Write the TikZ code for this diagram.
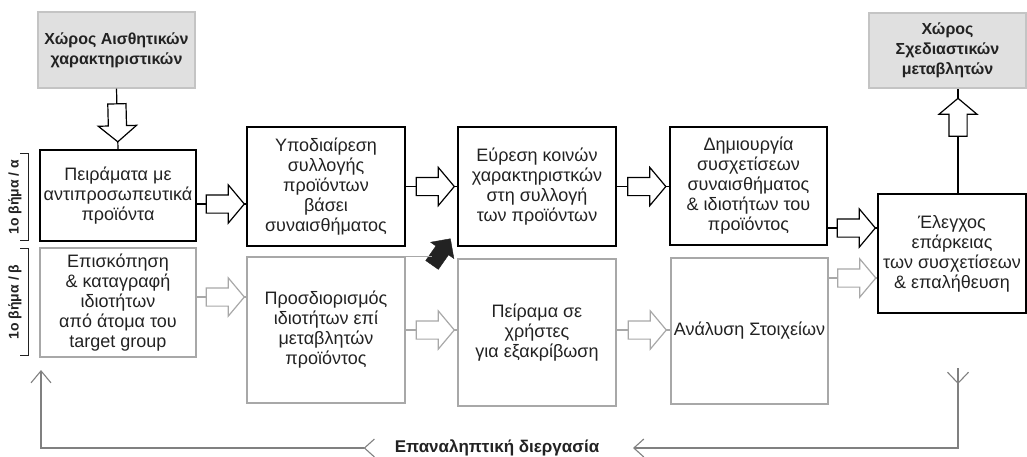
\documentclass[tikz,border=0pt]{standalone}
\usepackage{fontspec}
\setmainfont{Liberation Sans}
\usetikzlibrary{arrows.meta,shapes.arrows,decorations.markings}
\definecolor{boxgray}{HTML}{A8A8A8}
\definecolor{spacefill}{HTML}{E0E0E0}
\definecolor{spaceline}{HTML}{C4C4C4}
\definecolor{loopgray}{HTML}{808080}
\definecolor{txt}{HTML}{222222}

\begin{document}
\begin{tikzpicture}[x=1pt,y=-1pt,font=\fontsize{18}{20}\selectfont,
  box/.style={draw=black,line width=1.4pt,align=center,text=txt,inner sep=2pt},
  softbox/.style={box,draw=boxgray},
  space/.style={box,draw=spaceline,fill=spacefill,font=\bfseries\fontsize{16}{20}\selectfont},
  fat/.style={single arrow,draw,fill=white,line width=1.2pt,minimum height=38pt,
    inner xsep=0pt,inner ysep=8.5pt,single arrow head extend=10pt,single arrow tip angle=100,sloped,allow upside down},
  link/.style={line width=1.2pt},
  softlink/.style={link,draw=boxgray},
  steplabel/.style={rotate=90,text=txt,font=\bfseries\fontsize{14}{16}\selectfont},
  loopline/.style={draw=loopgray,line width=1.1pt}]
\useasboundingbox (0,0) rectangle (1027,456);

\node[space,minimum width=157,minimum height=76] (sens) at (116.5,50) {Χώρος Αισθητικών\\χαρακτηριστικών};
\node[space,minimum width=157,minimum height=75] (dv) at (947.5,50.5) {Χώρος\\Σχεδιαστικών\\μεταβλητών};

\node[box,minimum width=156,minimum height=91] (a1) at (118,195.5) {Πειράματα με\\αντιπροσωπευτικά\\προϊόντα};
\node[box,minimum width=158,minimum height=119] (a2) at (326,186.5) {Υποδιαίρεση\\συλλογής\\προϊόντων\\βάσει\\συναισθήματος};
\node[box,minimum width=158,minimum height=119] (a3) at (537,186.5) {Εύρεση κοινών\\χαρακτηριστκών\\στη συλλογή\\των προϊόντων};
\node[box,minimum width=157,minimum height=118] (a4) at (748.5,186) {Δημιουργία\\συσχετίσεων\\συναισθήματος\\\& ιδιοτήτων του\\προϊόντος};
\node[box,minimum width=148,minimum height=119] (r) at (952,253.5) {Έλεγχος\\επάρκειας\\των συσχετίσεων\\\& επαλήθευση};

\node[softbox,minimum width=156,minimum height=109] (b1) at (118,302.5) {Επισκόπηση\\\& καταγραφή\\ιδιοτήτων\\από άτομα του\\target group};
\node[softbox,minimum width=158,minimum height=146] (b2) at (326,330) {Προσδιορισμός\\ιδιοτήτων επί\\μεταβλητών\\προϊόντος};
\node[softbox,minimum width=158,minimum height=147] (b3) at (537,332.5) {Πείραμα σε\\χρήστες\\για εξακρίβωση};
\node[softbox,minimum width=157,minimum height=146] (b4) at (749.5,331) {Ανάλυση Στοιχείων};

\node[steplabel] (stepa) at (15,197) {1ο βήμα / α};
\node[steplabel] (stepb) at (15,302) {1ο βήμα / β};
\draw[txt,line width=1pt] (20,153) -- (28,153) -- (28,240) -- (20,240);
\draw[txt,line width=1pt] (20,248) -- (28,248) -- (28,355) -- (20,355);

\draw[link] (sens.south) -- (a1.north) node[midway,fat] {};
\draw[link] ([yshift=-8.5]a1.east) -- ([yshift=-8.5]a1.east -| a2.west) node[midway,fat] {};
\draw[link] (a2.east) -- (a2.east -| a3.west) node[midway,fat] {};
\draw[link] (a3.east) -- (a3.east -| a4.west) node[midway,fat] {};
\draw[link] ([yshift=-42]a4.east) -- ([yshift=-42]a4.east -| r.west) node[midway,fat] {};
\draw[link] ([xshift=6]r.north) -- ([xshift=6]r.north |- dv.south) node[pos=0.69,fat] {};

\draw[softlink] ([yshift=5.5]b1.east) -- ([yshift=5.5]b1.east -| b2.west) node[midway,fat,draw=boxgray] {};
\draw[softlink] (b2.east) -- (b2.east -| b3.west) node[midway,fat,draw=boxgray] {};
\draw[softlink] ([yshift=2.5]b3.east) -- ([yshift=2.5]b3.east -| b4.west) node[midway,fat,draw=boxgray] {};
\draw[softlink] ([yshift=53]b4.east) -- ([yshift=53]b4.east -| r.west) node[midway,fat,draw=boxgray] {};

\node[single arrow,fill=txt,draw=txt,minimum height=32pt,inner xsep=0pt,inner ysep=7.5pt,
  single arrow head extend=6.5pt,single arrow tip angle=90,rotate=55] (blk) at (439,255) {};
\draw[softlink] (b2.north east) -- (b2.north east -| blk.tail);

\node[text=txt,font=\bfseries\fontsize{17}{20}\selectfont] (iter) at (497,448) {Επαναληπτική διεργασία};
\coordinate (fbtop) at (958,368);
\coordinate (fbr) at (633,448);
\coordinate (fbl) at (375,448);
\coordinate (fbend) at (41,370);
\draw[loopline,-{Straight Barb[length=10pt,width=18pt]},postaction={decorate},
  decoration={markings,mark=at position 16pt with {\arrow{Straight Barb[length=11pt,width=21pt]}}}]
  (fbtop) |- (fbr);
\draw[loopline,{Straight Barb[reversed,length=10pt,width=18pt]}-{Straight Barb[length=12pt,width=20pt]}]
  (fbl) -| (fbend);
\end{tikzpicture}
\end{document}
